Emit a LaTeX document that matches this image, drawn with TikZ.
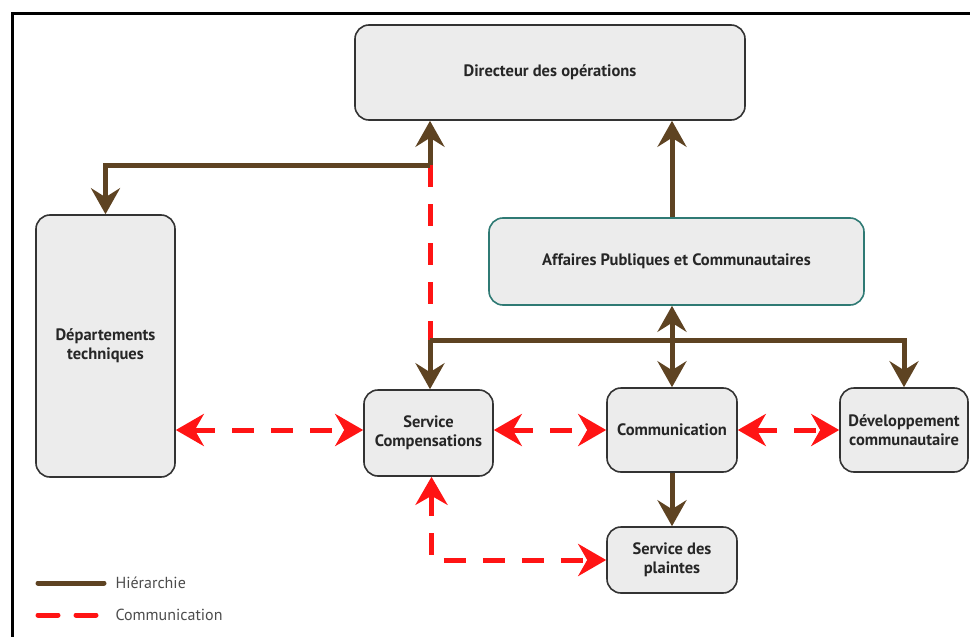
\documentclass[tikz,border=0pt]{standalone}
\usepackage{fontspec}
\setmainfont{PT Sans}
\usetikzlibrary{arrows.meta}

\definecolor{hierbrown}{HTML}{5E4322}
\definecolor{commred}{HTML}{FF1414}
\definecolor{boxfill}{HTML}{ECECEC}
\definecolor{boxteal}{HTML}{2F7A74}

\begin{document}
\begin{tikzpicture}[x=1pt, y=-1pt,
  unit/.style={rectangle, rounded corners=14pt, draw=black!80, line width=1.6pt,
    fill=boxfill, align=center, font=\bfseries\fontsize{16.5}{19}\selectfont, text=black!85},
  hier/.style={draw=hierbrown, line width=5pt,
    >={Stealth[length=26pt, width=29pt, inset=9pt]}},
  comm/.style={draw=commred, line width=5pt, dash pattern=on 22pt off 17pt,
    >={Stealth[length=28pt, width=32pt, inset=9pt]}},
  legend/.style={anchor=west, font=\fontsize{16}{18}\selectfont, text=black!70}]
  \useasboundingbox (0,0) rectangle (970,637);
  \draw[line width=3pt] (12,660) -- (12,13) -- (990,13);

  \node[unit, minimum width=390pt, minimum height=95pt] (dir) at (550,72.5) {Directeur des opérations};
  \node[unit, minimum width=139pt, minimum height=262pt] (dept) at (105.5,346) {Départements\\techniques};
  \node[unit, draw=boxteal, minimum width=375pt, minimum height=87pt] (apc) at (676.5,261.5) {Affaires Publiques et Communautaires};
  \node[unit, minimum width=129pt, minimum height=86pt] (comp) at (428.5,433) {Service\\Compensations};
  \node[unit, minimum width=130pt, minimum height=84pt] (comm) at (672,430) {Communication};
  \node[unit, minimum width=128pt, minimum height=84pt] (dev) at (904,430) {Développement\\communautaire};
  \node[unit, minimum width=130pt, minimum height=66pt] (plaintes) at (672,560) {Service des\\plaintes};

  \coordinate (j1) at (430,165);
  \coordinate (j2) at (430,340);

  % hierarchie
  \draw[comm] (j1) -- (j2);
  \draw[hier, ->] (j1) -| (dept.north);
  \draw[hier, ->] (j1) -- (j1 |- dir.south);
  \draw[hier, ->] (j2) -| (dev.north);
  \draw[hier, ->] (j2) -- (j2 |- comp.north);
  \draw[hier, <->] (comm.north |- apc.south) -- (comm.north);
  \draw[hier, ->] (comm.north |- apc.north) -- (comm.north |- dir.south);
  \draw[hier, ->] (comm.south) -- (plaintes.north);

  % communication
  \draw[comm, <->] (dept.east |- comm.west) -- (comp.west |- comm.west);
  \draw[comm, <->] (comp.east |- comm.west) -- (comm.west);
  \draw[comm, <->] (comm.east) -- (dev.west);
  \draw[comm, <->] ([xshift=3pt]comp.south) |- (plaintes.west);

  % legende
  \coordinate (lh1) at (38,583);
  \coordinate (lh2) at (104,583);
  \coordinate (lc1) at (38,615);
  \coordinate (lc2) at (104,615);
  \draw[hier, line cap=round] (lh1) -- (lh2);
  \draw[comm, dash pattern=on 20pt off 18pt, line cap=round] (lc1) -- (lc2);
  \node[legend] (lhier) at (112,583) {Hiérarchie};
  \node[legend] (lcomm) at (112,615) {Communication};
\end{tikzpicture}
\end{document}
